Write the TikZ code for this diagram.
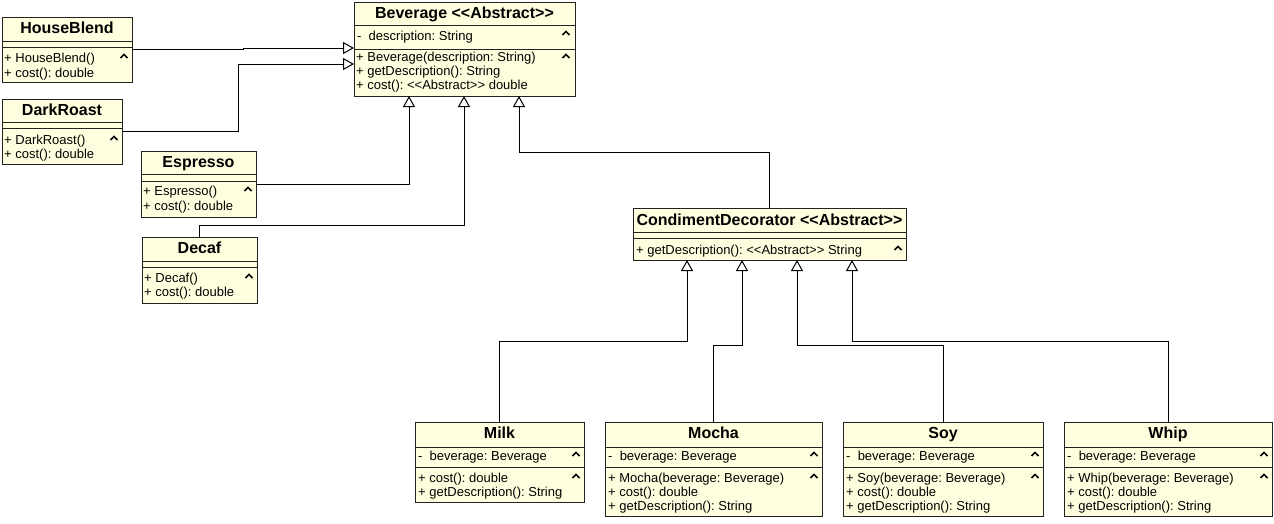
\documentclass[tikz,border=0pt]{standalone}
\usepackage{fontspec}
\setmainfont{Liberation Sans}
\usetikzlibrary{arrows.meta,calc}

\definecolor{classfill}{RGB}{255,255,224}
\definecolor{edgecol}{RGB}{34,34,34}

% stereotype guillemets written as plain angle brackets
\newcommand\stereo[1]{<\kern0pt<#1>\kern0pt>}
% collapse marker at the right of a compartment
\newcommand\fold[2]{\draw[foldmark] (#1-3.5,#2+2) -- (#1,#2-1.6) -- (#1+3.5,#2+2);}

\tikzset{
  cls/.style={draw=edgecol, fill=classfill, line width=1pt, anchor=north west,
              inner sep=0pt, outer sep=0pt},
  sepline/.style={draw=edgecol, line width=1pt},
  ctitle/.style={anchor=base, inner sep=0pt, font=\fontsize{16}{19}\selectfont\bfseries},
  mtext/.style={anchor=base west, inner sep=0pt, font=\fontsize{13}{14}\selectfont},
  foldmark/.style={draw=black, line width=1.5pt},
  gen/.style={draw=black, line width=1pt,
              -{Triangle[length=11pt,width=12pt,fill=white]}},
}

\begin{document}
\frenchspacing
\begin{tikzpicture}[x=1pt,y=-1pt]
\useasboundingbox (0,0) rectangle (1274,523);

% ---------- Beverage ----------
\node[cls, minimum width=221, minimum height=94] (bev) at (354,2) {};
\draw[sepline] (354,25) -- (575,25);
\draw[sepline] (354,49) -- (575,49);
\node[ctitle] (bevT) at (464.5,18) {Beverage \stereo{Abstract}};
\node[mtext] (bevA1) at (357,40) {- \ description: String};
\node[mtext] (bevM1) at (356,61.5) {+ Beverage(description: String)};
\node[mtext] (bevM2) at (356,75.5) {+ getDescription(): String};
\node[mtext] (bevM3) at (356,89.5) {+ cost(): \stereo{Abstract} double};
\fold{566}{33}
\fold{566}{56}

% ---------- HouseBlend ----------
\node[cls, minimum width=130, minimum height=65] (hb) at (2,17) {};
\draw[sepline] (2,41) -- (132,41);
\draw[sepline] (2,47) -- (132,47);
\node[ctitle] (hbT) at (67,33) {HouseBlend};
\node[mtext] (hbM1) at (4,62.5) {+ HouseBlend()};
\node[mtext] (hbM2) at (4,77) {+ cost(): double};
\fold{124}{56}

% ---------- DarkRoast ----------
\node[cls, minimum width=120, minimum height=65] (dr) at (2,99) {};
\draw[sepline] (2,122) -- (122,122);
\draw[sepline] (2,128) -- (122,128);
\node[ctitle] (drT) at (62,115) {DarkRoast};
\node[mtext] (drM1) at (4,144) {+ DarkRoast()};
\node[mtext] (drM2) at (4,158) {+ cost(): double};
\fold{114}{138}

% ---------- Espresso ----------
\node[cls, minimum width=115, minimum height=66] (esp) at (141,151) {};
\draw[sepline] (141,174) -- (256,174);
\draw[sepline] (141,181) -- (256,181);
\node[ctitle] (espT) at (198.5,167) {Espresso};
\node[mtext] (espM1) at (143,195.5) {+ Espresso()};
\node[mtext] (espM2) at (143,210) {+ cost(): double};
\fold{248}{189}

% ---------- Decaf ----------
\node[cls, minimum width=115, minimum height=66] (dec) at (142,237) {};
\draw[sepline] (142,261) -- (257,261);
\draw[sepline] (142,267) -- (257,267);
\node[ctitle] (decT) at (199.5,253) {Decaf};
\node[mtext] (decM1) at (144,282.5) {+ Decaf()};
\node[mtext] (decM2) at (144,296.5) {+ cost(): double};
\fold{249}{276}

% ---------- CondimentDecorator ----------
\node[cls, minimum width=273, minimum height=52] (cd) at (633,208) {};
\draw[sepline] (633,232) -- (906,232);
\draw[sepline] (633,238) -- (906,238);
\node[ctitle] (cdT) at (769.5,225) {CondimentDecorator \stereo{Abstract}};
\node[mtext] (cdM1) at (636,254) {+ getDescription(): \stereo{Abstract} String};
\fold{898}{248}

% ---------- Milk ----------
\node[cls, minimum width=169, minimum height=80] (milk) at (415,422) {};
\draw[sepline] (415,447) -- (584,447);
\draw[sepline] (415,467) -- (584,467);
\node[ctitle] (milkT) at (499.5,438) {Milk};
\node[mtext] (milkA1) at (418,460) {- \ beverage: Beverage};
\node[mtext] (milkM1) at (418,482) {+ cost(): double};
\node[mtext] (milkM2) at (418,496) {+ getDescription(): String};
\fold{576}{454}
\fold{576}{476}

% ---------- Mocha ----------
\node[cls, minimum width=217, minimum height=94] (mocha) at (605,422) {};
\draw[sepline] (605,447) -- (822,447);
\draw[sepline] (605,467) -- (822,467);
\node[ctitle] (mochaT) at (713.5,438) {Mocha};
\node[mtext] (mochaA1) at (608,460) {- \ beverage: Beverage};
\node[mtext] (mochaM1) at (608,482) {+ Mocha(beverage: Beverage)};
\node[mtext] (mochaM2) at (608,496) {+ cost(): double};
\node[mtext] (mochaM3) at (608,510) {+ getDescription(): String};
\fold{814}{454}
\fold{814}{476}

% ---------- Soy ----------
\node[cls, minimum width=200, minimum height=94] (soy) at (843,422) {};
\draw[sepline] (843,447) -- (1043,447);
\draw[sepline] (843,467) -- (1043,467);
\node[ctitle] (soyT) at (943,438) {Soy};
\node[mtext] (soyA1) at (846,460) {- \ beverage: Beverage};
\node[mtext] (soyM1) at (846,482) {+ Soy(beverage: Beverage)};
\node[mtext] (soyM2) at (846,496) {+ cost(): double};
\node[mtext] (soyM3) at (846,510) {+ getDescription(): String};
\fold{1035}{454}
\fold{1035}{476}

% ---------- Whip ----------
\node[cls, minimum width=208, minimum height=94] (whip) at (1064,422) {};
\draw[sepline] (1064,447) -- (1272,447);
\draw[sepline] (1064,467) -- (1272,467);
\node[ctitle] (whipT) at (1168,438) {Whip};
\node[mtext] (whipA1) at (1067,460) {- \ beverage: Beverage};
\node[mtext] (whipM1) at (1067,482) {+ Whip(beverage: Beverage)};
\node[mtext] (whipM2) at (1067,496) {+ cost(): double};
\node[mtext] (whipM3) at (1067,510) {+ getDescription(): String};
\fold{1264}{454}
\fold{1264}{476}

% ---------- generalisations ----------
\draw[gen] (hb.east) -- ++(111,0) |- ($(bev.north west)+(0,46)$);
\draw[gen] (dr.east) -- ++(116,0) |- ($(bev.north west)+(0,62)$);
\draw[gen] (esp.east) -| ($(bev.south west)+(55,0)$);
\draw[gen] (dec.north) -- ++(0,-12) -| ($(bev.south west)+(110,0)$);
\draw[gen] (cd.north) -- ++(0,-56) -| ($(bev.south west)+(165,0)$);

\draw[gen] (milk.north) -- ++(0,-81) -| ($(cd.south west)+(54,0)$);
\draw[gen] (mocha.north) -- ++(0,-77) -| ($(cd.south west)+(109,0)$);
\draw[gen] (soy.north) -- ++(0,-77) -| ($(cd.south west)+(164,0)$);
\draw[gen] (whip.north) -- ++(0,-81) -| ($(cd.south west)+(219,0)$);
\end{tikzpicture}
\end{document}
